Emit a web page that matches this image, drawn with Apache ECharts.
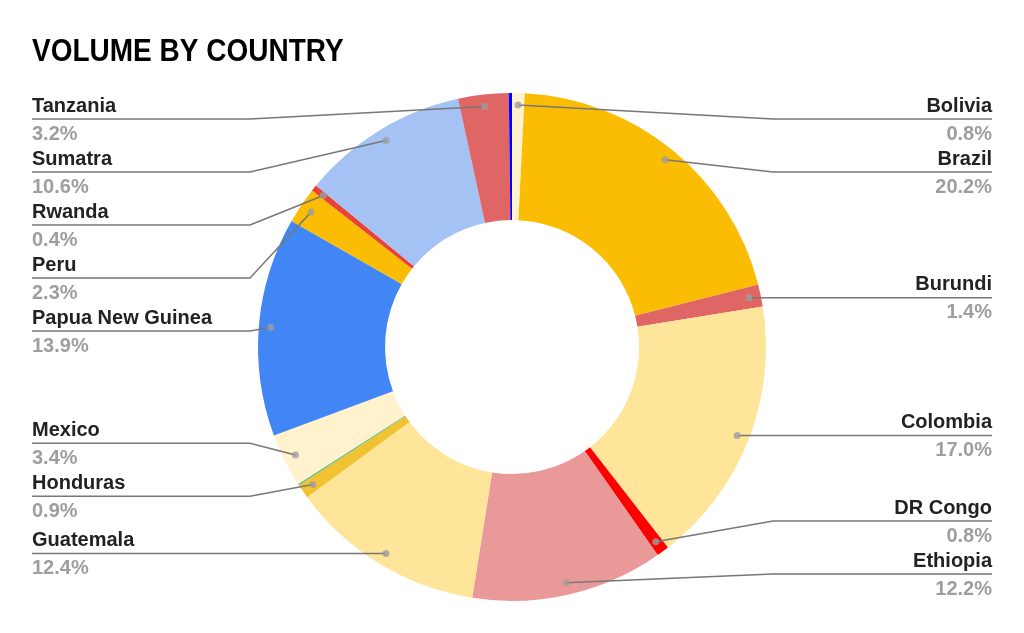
<!DOCTYPE html>
<html>
<head>
<meta charset="utf-8">
<script src="https://cdn.jsdelivr.net/npm/echarts@6/dist/echarts.min.js"></script>
<style>
html, body { margin: 0; padding: 0; background: #fff; }
#chart { width: 1024px; height: 633px; }
</style>
</head>
<body>
<div id="chart"></div>
<script>
// slices clockwise from 12 o'clock
const countries = ['Bolivia', 'Brazil', 'Burundi', 'Colombia', 'DR Congo', 'Ethiopia', 'Guatemala',
    'Honduras', 'Kenya', 'Mexico', 'Papua New Guinea', 'Peru', 'Rwanda', 'Sumatra', 'Tanzania', 'Uganda'];
const shares = [0.8, 20.2, 1.4, 17.0, 0.8, 12.2, 12.4, 0.9, 0.1, 3.4, 13.9, 2.3, 0.4, 10.6, 3.2, 0.2];
const showLabel = [true, true, true, true, true, true, true, true, false, true, true, true, true, true, true, false];
const sliceColors = ['#fff2cc', '#fbbc04', '#e06666', '#ffe599', '#ff0000', '#ea9999', '#ffe599',
    '#f1c232', '#57bb8a', '#fff2cc', '#4285f4', '#fbbc04', '#ea4335', '#a4c2f4', '#e06666', '#0000ff'];

const cx = 512, cy = 347, rOuter = 254, rInner = 127, rDot = 242;
const total = shares.reduce((a, b) => a + b, 0);

// middle of each slice, in data units (used by polar scatter and label placement)
const midValues = [];
let acc = 0;
shares.forEach(v => { midValues.push(acc + v / 2); acc += v; });

// label placement: start at dot height, push apart in groups like Sheets does
const placed = {};
const leftItems = [], rightItems = [];
midValues.forEach((m, i) => {
    if (!showLabel[i]) return;
    const a = m / total * Math.PI * 2;
    const dx = cx + rDot * Math.sin(a);
    const dy = cy - rDot * Math.cos(a);
    const item = { idx: i, dx: dx, dy: dy, want: dy, side: dx < cx ? 'left' : 'right' };
    (dx < cx ? leftItems : rightItems).push(item);
});

function spread(items, gap, top, bottom) {
    items.sort((a, b) => a.want - b.want);
    const groups = items.map(it => ({ members: [it], sum: it.want }));
    let merged = true;
    while (merged) {
        merged = false;
        groups.forEach(g => {
            const n = g.members.length;
            let s = g.sum / n - gap * (n - 1) / 2;
            g.start = Math.max(top, Math.min(s, bottom - gap * (n - 1)));
        });
        for (let i = 0; i < groups.length - 1; i++) {
            const a = groups[i], b = groups[i + 1];
            if (b.start - (a.start + gap * (a.members.length - 1)) < gap) {
                a.members = a.members.concat(b.members);
                a.sum += b.sum;
                groups.splice(i + 1, 1);
                merged = true;
                break;
            }
        }
    }
    groups.forEach(g => g.members.forEach((m, k) => {
        m.y = g.start + k * gap;
        placed[m.idx] = m;
    }));
}
spread(leftItems, 53, 119, 574);
spread(rightItems, 53, 119, 574);

const labelFont = '"Liberation Sans", Arial, sans-serif';

const chart = echarts.init(document.getElementById('chart'));
chart.setOption({
    backgroundColor: '#fff',
    animation: false,
    graphic: [{
        type: 'text',
        x: 32,
        y: 52,
        scaleX: 0.875,
        style: {
            text: 'VOLUME BY COUNTRY',
            font: 'bold 32px "Liberation Sans", Arial, sans-serif',
            fill: '#000',
            verticalAlign: 'middle'
        }
    }],
    polar: { center: [cx, cy], radius: rOuter },
    angleAxis: { type: 'value', min: 0, max: total, startAngle: 90, clockwise: true, show: false },
    radiusAxis: { type: 'value', min: 0, max: rOuter, show: false },
    series: [
        {
            // the slices
            type: 'pie',
            center: [cx, cy],
            radius: [rInner, rOuter],
            startAngle: 90,
            clockwise: true,
            z: 1,
            silent: true,
            label: { show: false },
            labelLine: { show: false },
            data: countries.map((c, i) => ({
                name: c,
                value: shares[i],
                itemStyle: { color: sliceColors[i] }
            }))
        },
        {
            // same slices, invisible, only to carry labels and leader lines above the ring
            type: 'pie',
            center: [cx, cy],
            radius: [rInner, rOuter],
            startAngle: 90,
            clockwise: true,
            avoidLabelOverlap: false,
            z: 3,
            silent: true,
            itemStyle: { color: 'rgba(0,0,0,0)' },
            data: countries.map((c, i) => ({
                name: c,
                value: shares[i],
                label: { show: showLabel[i] },
                labelLine: { show: showLabel[i] }
            })),
            label: {
                position: 'outside',
                formatter: p => '{n|' + p.name + '}\n{p|' + p.value.toFixed(1) + '%}',
                rich: {
                    n: { fontFamily: labelFont, fontWeight: 'bold', fontSize: 20, color: '#222', lineHeight: 30 },
                    p: { fontFamily: labelFont, fontWeight: 'bold', fontSize: 20, color: '#9e9e9e', lineHeight: 26 }
                }
            },
            labelLine: {
                show: true,
                lineStyle: { color: '#777', width: 1.5 }
            },
            labelLayout: function (params) {
                const p = placed[params.dataIndex];
                if (!p) return {};
                const left = p.side === 'left';
                return {
                    x: left ? 32 : 992,
                    y: p.y,
                    align: left ? 'left' : 'right',
                    verticalAlign: 'middle',
                    labelLinePoints: [[p.dx, p.dy], [left ? 250 : 773, p.y], [left ? 32 : 992, p.y]]
                };
            }
        },
        {
            type: 'scatter',
            coordinateSystem: 'polar',
            symbolSize: 7,
            z: 5,
            itemStyle: { color: '#9e9e9e' },
            silent: true,
            data: midValues.filter((m, i) => showLabel[i]).map(m => [rDot, m])
        }
    ]
});
</script>
</body>
</html>
